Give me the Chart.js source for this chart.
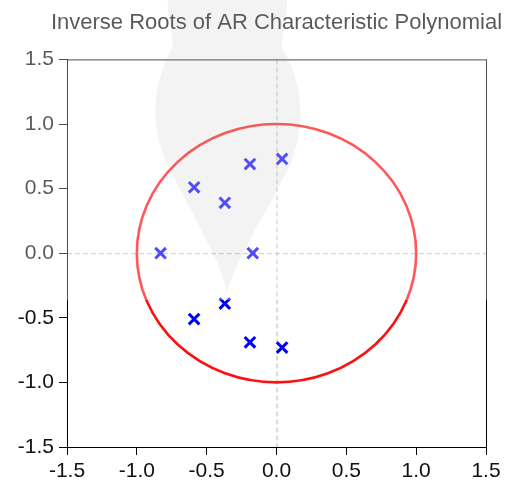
<!DOCTYPE html>
<html>
<head>
<meta charset="utf-8">
<script src="https://cdn.jsdelivr.net/npm/chart.js@4/dist/chart.umd.min.js"></script>
<style>
  html, body { margin: 0; padding: 0; background: #fff; }
  #wrap { width: 510px; height: 483px; }
</style>
</head>
<body>
<div id="wrap"><canvas id="roots" width="510" height="483"></canvas></div>
<script>
const rootsReal = [0.04, 0.04, -0.19, -0.19, -0.59, -0.59, -0.37, -0.37, -0.83, -0.17];
const rootsImag = [0.73, -0.73, 0.69, -0.69, 0.51, -0.51, 0.39, -0.39, 0.0, 0.0];
const axisTicks = [-1.5, -1.0, -0.5, 0.0, 0.5, 1.0, 1.5];
const unitRadius = 1;

const points = rootsReal.map((x, i) => ({ x: x, y: rootsImag[i] }));

// dashed zero lines, unit circle, plot frame and the faint watermark
const decor = {
  id: "decor",
  afterLayout(chart) {
    // centre the title over the plot area rather than the canvas
    const t = chart.titleBlock;
    if (t) { t.left = 43; t.right = chart.width; }
  },
  beforeDatasetsDraw(chart) {
    const { ctx, chartArea: a, scales: { x, y } } = chart;
    const x0 = x.getPixelForValue(0);
    const y0 = y.getPixelForValue(0);
    ctx.save();
    ctx.strokeStyle = "#b4b4b4";
    ctx.lineWidth = 1;
    ctx.setLineDash([5, 3]);
    ctx.beginPath();
    ctx.moveTo(a.left, y0 + 0.5); ctx.lineTo(a.right, y0 + 0.5);
    ctx.moveTo(x0 + 0.5, a.top); ctx.lineTo(x0 + 0.5, a.bottom);
    ctx.stroke();
    ctx.setLineDash([]);
    const rx = x.getPixelForValue(unitRadius) - x0;
    const ry = y0 - y.getPixelForValue(unitRadius);
    ctx.strokeStyle = "#ff1010";
    ctx.lineWidth = 2.6;
    ctx.beginPath();
    ctx.ellipse(x0, y0, rx, ry, 0, 0, Math.PI * 2);
    ctx.stroke();
    ctx.restore();
  },
  afterDraw(chart) {
    const { ctx, chartArea: a, width } = chart;
    ctx.save();
    ctx.strokeStyle = "#000";
    ctx.lineWidth = 1;
    ctx.strokeRect(a.left + 0.5, a.top + 0.5, a.right - a.left, a.bottom - a.top);
    // washed-out upper band with the drop shaped watermark
    const band = 300;
    ctx.fillStyle = "rgba(255,255,255,0.3)";
    ctx.fillRect(0, 0, width, band);
    ctx.fillStyle = "rgba(120,120,120,0.09)";
    ctx.beginPath();
    ctx.moveTo(168, 0);
    ctx.bezierCurveTo(166, 20, 175, 35, 172, 48);
    ctx.bezierCurveTo(150, 90, 150, 130, 170, 170);
    ctx.bezierCurveTo(195, 220, 220, 260, 227, 292);
    ctx.bezierCurveTo(238, 255, 268, 210, 290, 165);
    ctx.bezierCurveTo(305, 130, 305, 85, 282, 48);
    ctx.bezierCurveTo(280, 35, 288, 20, 287, 0);
    ctx.closePath();
    ctx.fill();
    ctx.restore();
  }
};

const fontFamily = "'Liberation Sans', Arial, sans-serif";
const gridOpts = {
  drawOnChartArea: false,
  drawTicks: true,
  tickLength: 8,
  color: "#000"
};

new Chart(document.getElementById("roots"), {
  type: "scatter",
  data: {
    datasets: [{
      data: points,
      pointStyle: "crossRot",
      pointRadius: 7.5,
      pointBorderWidth: 3,
      borderColor: "#0000ff",
      backgroundColor: "#0000ff"
    }]
  },
  options: {
    responsive: false,
    animation: false,
    layout: { padding: { left: 13, right: 0, top: 0, bottom: 0 } },
    plugins: {
      legend: { display: false },
      tooltip: { enabled: false },
      title: {
        display: true,
        text: "Inverse Roots of AR Characteristic Polynomial",
        color: "#111",
        font: { family: fontFamily, size: 22, weight: "normal" },
        padding: { top: 10, bottom: 23 }
      }
    },
    scales: {
      x: {
        type: "linear",
        min: -1.5, max: 1.5,
        afterBuildTicks: s => { s.ticks = axisTicks.map(v => ({ value: v })); },
        ticks: { color: "#111", font: { family: fontFamily, size: 21 }, padding: 4, maxRotation: 0,
                 callback: v => Number(v).toFixed(1) },
        grid: gridOpts,
        border: { color: "#000" },
        afterFit: s => { s.height = 36; s.paddingRight = 24; }
      },
      y: {
        type: "linear",
        min: -1.5, max: 1.5,
        afterBuildTicks: s => { s.ticks = axisTicks.map(v => ({ value: v })); },
        ticks: { color: "#111", font: { family: fontFamily, size: 21 }, padding: 5,
                 callback: v => Number(v).toFixed(1) },
        grid: gridOpts,
        border: { color: "#000" },
        afterFit: s => { s.width = 54; }
      }
    }
  },
  plugins: [decor]
});
</script>
</body>
</html>
